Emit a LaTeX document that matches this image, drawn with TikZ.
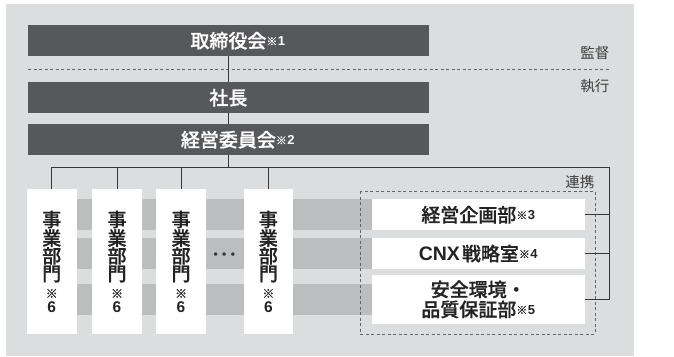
\documentclass[tikz,border=0pt]{standalone}
\usepackage{fontspec}
\newfontfamily\jp{Noto Sans CJK JP}
\newfontfamily\jpm{Noto Sans CJK JP Medium}[FakeBold=0.8]
\newfontfamily\lat{Liberation Sans}
\definecolor{bgc}{RGB}{220,221,222}
\definecolor{bandc}{RGB}{188,189,191}
\definecolor{darkc}{RGB}{87,88,90}
\definecolor{linec}{RGB}{55,55,55}
\definecolor{dashc}{RGB}{100,100,100}
\definecolor{txtc}{RGB}{60,60,60}
\definecolor{boxtxt}{RGB}{35,35,35}
\newcommand\nt[1]{\raisebox{2.5pt}[0pt][0pt]{\fontsize{11}{11}\selectfont ※\kern0.5pt{\lat\bfseries\fontsize{13}{13}\selectfont #1}}}
\newcommand\divtext{事\\業\\部\\門\\[-0.5pt]{\fontsize{12}{12}\selectfont ※}\\[-3pt]{\lat\bfseries\fontsize{15.5}{15.5}\selectfont 6}}
\tikzset{
  darkbox/.style={fill=darkc, text=white, inner sep=0pt, minimum width=401pt, minimum height=31pt, anchor=north west, font=\jpm\fontsize{19}{19}\selectfont},
  divbox/.style={fill=white, text=boxtxt, inner sep=0pt, minimum width=49.7pt, minimum height=145pt, anchor=north west, align=center, font=\jpm\fontsize{19}{17.7}\selectfont},
  staffbox/.style={fill=white, text=boxtxt, inner sep=0pt, minimum width=212.6pt, anchor=north west, align=center, font=\jpm\fontsize{19}{20}\selectfont},
  conn/.style={draw=linec, line width=0.9pt},
  side/.style={text=txtc, font=\jp\fontsize{14.5}{14.5}\selectfont, inner sep=0pt, anchor=east},
  dashline/.style={draw=dashc, line width=0.7pt, dash pattern=on 3pt off 2.5pt}
}
\begin{document}
\begin{tikzpicture}[x=1pt,y=-1pt]
\useasboundingbox (0,0) rectangle (674,356);
\fill[bgc] (6,4) rectangle (634,356);
% top boxes
\node[darkbox] (t) at (27.7,25) {取締役会\rlap{\nt{1}}};
\node[darkbox] (p) at (27.7,82) {社長};
\node[darkbox] (k) at (27.7,124) {経営委員会\rlap{\nt{2}}};
% dashed separator
\coordinate (dl) at (28,69.3);
\coordinate (dr) at (610,69.3);
\draw[dashline] (dl) -- (dr);
\node[side] (l1) at (609.5,52.5) {監督};
\node[side] (l2) at (609.5,86.5) {執行};
% bands
\fill[bandc] (26.7,199) rectangle (372,230);
\fill[bandc] (26.7,238.3) rectangle (372,269);
\fill[bandc] (26.7,284) rectangle (372,315);
% dashed group
\draw[dashline] (360.7,191) rectangle (595,334.3);
% division boxes
\node[divbox] (d1) at (26.7,189) {\divtext};
\node[divbox] (d2) at (92,189) {\divtext};
\node[divbox] (d3) at (156,189) {\divtext};
\node[divbox] (d4) at (243.3,189) {\divtext};
\node[inner sep=0pt, font=\lat\bfseries\fontsize{12}{12}\selectfont, text=linec] (dots) at (224.3,255.3) {•\hspace{4.5pt}•\hspace{4.5pt}•};
% staff boxes
\node[staffbox, minimum height=31pt] (s1) at (371.7,199) {経営企画部\nt{3}};
\node[staffbox, minimum height=31.3pt] (s2) at (371.7,237.7) {{\lat\bfseries\fontsize{19.5}{20}\selectfont CNX}\kern2pt 戦略室\nt{4}};
\node[staffbox, minimum height=48.3pt] (s3) at (371.7,275) {安全環境・\\品質保証部\nt{5}};
\node[side] (l3) at (594.5,182) {連携};
% connectors
\coordinate (busR) at (609,167);
\draw[conn] (t.south) -- (p.north);
\draw[conn] (p.south) -- (k.north);
\draw[conn] (k.south) -- (k.south |- busR);
\draw[conn] (d1.north) |- (busR) -- (busR |- s3.east) -- (s3.east);
\draw[conn] (d2.north) -- (d2.north |- busR);
\draw[conn] (d3.north) -- (d3.north |- busR);
\draw[conn] (d4.north) -- (d4.north |- busR);
\draw[conn] (s1.east) -- (s1.east -| busR);
\draw[conn] (s2.east) -- (s2.east -| busR);
\end{tikzpicture}
\end{document}
